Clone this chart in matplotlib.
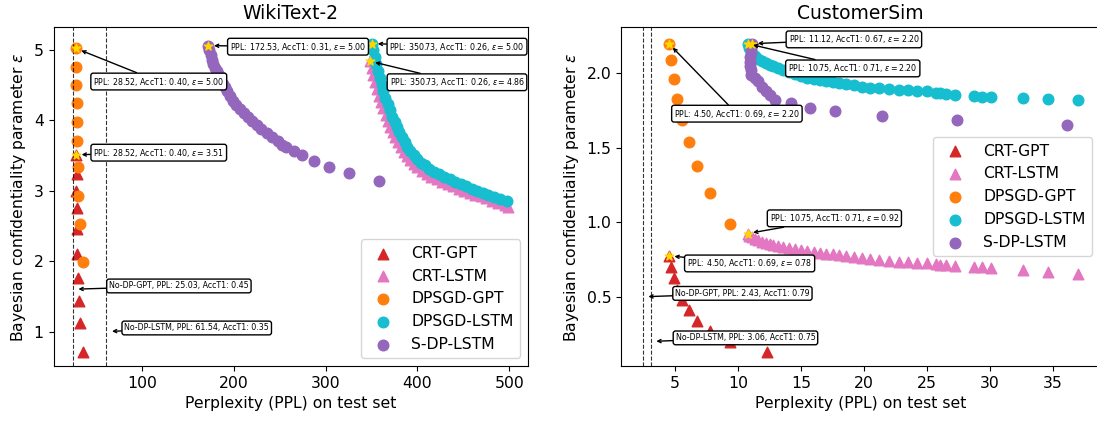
import numpy as np
import matplotlib
matplotlib.use('Agg')
from matplotlib import pyplot as plt

plt.rcParams['font.size'] = 11.25

series_names = ['CRT-GPT', 'CRT-LSTM', 'DPSGD-GPT', 'DPSGD-LSTM', 'S-DP-LSTM']

# ---- WikiText-2 ----
wiki_crt_gpt_ppl = [28.52, 29.0, 28.6, 29.4, 29.2, 29.6, 30.6, 31.2, 33.0, 36.3]
wiki_crt_gpt_eps = [3.51, 3.24, 2.99, 2.75, 2.46, 2.10, 1.76, 1.44, 1.12, 0.71]

wiki_dpsgd_gpt_ppl = [28.52, 28.7, 28.8, 29.0, 29.4, 29.7, 30.3, 31.0, 32.5, 36.0]
wiki_dpsgd_gpt_eps = [5.02, 4.76, 4.50, 4.24, 3.97, 3.71, 3.33, 2.93, 2.53, 1.99]

wiki_crt_lstm_ppl = [348, 350, 352, 354, 356, 358, 360.5, 363, 365.5, 368, 370.5,
                     373, 376, 379, 382, 385, 388.5, 392, 396, 400, 405, 410, 415,
                     421, 427, 433, 439, 445, 451, 457, 463, 469, 475, 481, 488,
                     495, 499]
wiki_crt_lstm_eps = [4.84, 4.74, 4.64, 4.54, 4.44, 4.35, 4.26, 4.17, 4.08, 3.99,
                     3.91, 3.83, 3.76, 3.69, 3.62, 3.55, 3.49, 3.43, 3.38, 3.33,
                     3.28, 3.24, 3.20, 3.16, 3.12, 3.09, 3.06, 3.03, 3.00, 2.97,
                     2.94, 2.92, 2.89, 2.86, 2.83, 2.80, 2.77]

wiki_dpsgd_lstm_ppl = [350.73, 352, 353.5, 355, 357, 359, 361, 363, 365, 367.5,
                       370, 372.5, 375, 377.5, 380, 383, 386, 389, 392, 396, 400,
                       404, 408, 413, 418, 423, 429, 435, 441, 447, 453, 459, 465,
                       471, 477, 483, 490, 497]
wiki_dpsgd_lstm_eps = [5.09, 5.00, 4.90, 4.80, 4.70, 4.60, 4.50, 4.41, 4.32, 4.23,
                       4.14, 4.05, 3.97, 3.90, 3.83, 3.76, 3.69, 3.62, 3.56, 3.50,
                       3.45, 3.40, 3.36, 3.31, 3.27, 3.23, 3.19, 3.16, 3.12, 3.09,
                       3.06, 3.03, 3.00, 2.97, 2.94, 2.91, 2.88, 2.85]

wiki_sdp_lstm_ppl = [172.53, 173.5, 175, 176.5, 178, 180, 181.5, 183.5, 185.5, 188,
                     190.5, 193, 196, 199.6, 203, 207, 211, 215.5, 220, 225, 230,
                     236, 242, 248, 252.5, 257, 266, 274, 287, 304, 325, 358]
wiki_sdp_lstm_eps = [5.06, 5.00, 4.93, 4.86, 4.80, 4.74, 4.70, 4.64, 4.58, 4.52,
                     4.47, 4.41, 4.35, 4.28, 4.22, 4.16, 4.10, 4.04, 3.99, 3.93,
                     3.88, 3.82, 3.76, 3.70, 3.65, 3.62, 3.56, 3.50, 3.42, 3.34,
                     3.25, 3.14]

wiki_nodp_gpt = (25.03, 0.45)
wiki_nodp_lstm = (61.54, 0.35)

# ---- CustomerSim ----
cs_gpt_ppl = [4.50, 4.68, 4.90, 5.16, 5.56, 6.07, 6.76, 7.75, 9.39, 12.27]
cs_crt_gpt_eps = [0.775, 0.70, 0.625, 0.547, 0.477, 0.41, 0.34, 0.272, 0.198, 0.13]
cs_dpsgd_gpt_eps = [2.20, 2.089, 1.96, 1.827, 1.69, 1.54, 1.38, 1.198, 0.988]

cs_lstm_ppl = [10.75, 10.9, 11.1, 11.35, 11.6, 11.9, 12.2, 12.5, 12.8, 13.2, 13.6,
               14.0, 14.5, 15.0, 15.5, 16.0, 16.5, 17.0, 17.5, 18.0, 18.6, 19.2,
               19.8, 20.5, 21.2, 22.0, 22.8, 23.5, 24.2, 25.0, 25.7, 26.0, 26.5,
               27.2, 28.7, 29.4, 30.1, 32.6, 34.6, 37.0]
cs_crt_lstm_eps = [0.925, 0.91, 0.90, 0.89, 0.88, 0.87, 0.862, 0.855, 0.848, 0.84,
                   0.832, 0.825, 0.818, 0.812, 0.806, 0.80, 0.795, 0.79, 0.785,
                   0.78, 0.774, 0.768, 0.762, 0.756, 0.75, 0.742, 0.736, 0.732,
                   0.728, 0.724, 0.719, 0.716, 0.712, 0.708, 0.70, 0.699, 0.694,
                   0.679, 0.668, 0.652]
cs_dpsgd_lstm_eps = [2.20, 2.17, 2.14, 2.12, 2.10, 2.085, 2.07, 2.06, 2.05, 2.035,
                     2.02, 2.01, 1.995, 1.98, 1.97, 1.962, 1.955, 1.948, 1.94,
                     1.933, 1.926, 1.92, 1.912, 1.905, 1.90, 1.895, 1.89, 1.887,
                     1.883, 1.879, 1.872, 1.866, 1.862, 1.855, 1.85, 1.845, 1.84,
                     1.835, 1.829, 1.823]

cs_sdp_lstm_ppl = [11.12, 11.05, 11.0, 10.98, 10.97, 10.97, 11.0, 11.05, 11.3, 11.6,
                   11.9, 12.2, 12.5, 12.9, 14.2, 15.7, 17.7, 21.4, 27.4, 36.1]
cs_sdp_lstm_eps = [2.20, 2.17, 2.14, 2.11, 2.08, 2.05, 2.02, 1.99, 1.97, 1.95,
                   1.91, 1.88, 1.855, 1.825, 1.80, 1.77, 1.747, 1.715, 1.686, 1.657]

cs_nodp_gpt = (2.43, 0.79)
cs_nodp_lstm = (3.06, 0.75)

colors = {'CRT-GPT': '#d62728', 'CRT-LSTM': '#e377c2', 'DPSGD-GPT': '#ff7f0e',
          'DPSGD-LSTM': '#17becf', 'S-DP-LSTM': '#9467bd'}
markers = {'CRT-GPT': '^', 'CRT-LSTM': '^', 'DPSGD-GPT': 'o',
           'DPSGD-LSTM': 'o', 'S-DP-LSTM': 'o'}

box = dict(boxstyle='round,pad=0.3', fc='white', ec='black', lw=1)
arrow = dict(arrowstyle='->', color='black', lw=1, shrinkA=0, shrinkB=4)


def note(ax, text, xy, xytext):
    ax.annotate(text, xy=xy, xytext=xytext, fontsize=5.7, ha='center',
                va='center', bbox=box, arrowprops=arrow, zorder=10)


def best_label(ppl, acc, eps):
    return 'PPL: %.2f, AccT1: %.2f, $\\varepsilon = %.2f$' % (ppl, acc, eps)


def draw_panel(ax, data, nodp, title):
    for name in series_names:
        x, y = data[name]
        ax.scatter(x, y, s=58, c=colors[name], marker=markers[name], label=name)
    for name in series_names:
        x, y = data[name]
        ax.scatter(x[0], y[0], s=40, c='gold', marker='*', zorder=5)
    for ppl, acc in nodp:
        ax.axvline(ppl, color='k', ls='--', lw=0.8, alpha=0.8)
    ax.set_title(title, fontsize=13.5)
    ax.set_xlabel('Perplexity (PPL) on test set')
    ax.set_ylabel('Bayesian confidentiality parameter $\\varepsilon$')


fig = plt.figure(figsize=(10.97, 4.21), dpi=100)
ax1 = fig.add_axes([0.0488, 0.1306, 0.4323, 0.8045])
ax2 = fig.add_axes([0.5661, 0.1306, 0.4363, 0.8045])

wiki = {'CRT-GPT': (wiki_crt_gpt_ppl, wiki_crt_gpt_eps),
        'CRT-LSTM': (wiki_crt_lstm_ppl, wiki_crt_lstm_eps),
        'DPSGD-GPT': (wiki_dpsgd_gpt_ppl, wiki_dpsgd_gpt_eps),
        'DPSGD-LSTM': (wiki_dpsgd_lstm_ppl, wiki_dpsgd_lstm_eps),
        'S-DP-LSTM': (wiki_sdp_lstm_ppl, wiki_sdp_lstm_eps)}
draw_panel(ax1, wiki, [wiki_nodp_gpt, wiki_nodp_lstm], 'WikiText-2')
ax1.set_xlim(4, 520)
ax1.set_ylim(0.51, 5.32)
ax1.set_yticks([1, 2, 3, 4, 5])
ax1.legend(loc='lower right')
note(ax1, best_label(28.52, 0.40, 5.00), (28.52, 5.02), (118.5, 4.55))
note(ax1, best_label(28.52, 0.40, 3.51), (28.52, 3.51), (118.5, 3.54))
note(ax1, best_label(172.53, 0.31, 5.00), (172.53, 5.06), (270, 5.045))
note(ax1, best_label(350.73, 0.26, 5.00), (350.73, 5.09), (443, 5.045))
note(ax1, best_label(350.73, 0.26, 4.86), (348, 4.84), (443, 4.54))
note(ax1, 'No-DP-GPT, PPL: %.2f, AccT1: %.2f' % wiki_nodp_gpt,
     (wiki_nodp_gpt[0], 1.6), (140.4, 1.647))
note(ax1, 'No-DP-LSTM, PPL: %.2f, AccT1: %.2f' % wiki_nodp_lstm,
     (wiki_nodp_lstm[0], 1.0), (159.8, 1.05))

cs = {'CRT-GPT': (cs_gpt_ppl, cs_crt_gpt_eps),
      'CRT-LSTM': (cs_lstm_ppl, cs_crt_lstm_eps),
      'DPSGD-GPT': (cs_gpt_ppl[:len(cs_dpsgd_gpt_eps)], cs_dpsgd_gpt_eps),
      'DPSGD-LSTM': (cs_lstm_ppl, cs_dpsgd_lstm_eps),
      'S-DP-LSTM': (cs_sdp_lstm_ppl, cs_sdp_lstm_eps)}
draw_panel(ax2, cs, [cs_nodp_gpt, cs_nodp_lstm], 'CustomerSim')
ax2.set_xlim(0.7, 38.7)
ax2.set_ylim(0.035, 2.31)
ax2.set_yticks([0.5, 1.0, 1.5, 2.0])
ax2.legend(loc='center right')
note(ax2, best_label(4.50, 0.69, 2.20), (4.50, 2.20), (9.9, 1.73))
note(ax2, best_label(11.12, 0.67, 2.20), (11.12, 2.20), (19.19, 2.229))
note(ax2, best_label(10.75, 0.71, 2.20), (10.75, 2.20), (19.1, 2.034))
note(ax2, best_label(10.75, 0.71, 0.92), (10.75, 0.925), (17.64, 1.027))
note(ax2, best_label(4.50, 0.69, 0.78), (4.50, 0.775), (10.91, 0.724))
note(ax2, 'No-DP-GPT, PPL: %.2f, AccT1: %.2f' % cs_nodp_gpt,
     (cs_nodp_gpt[0], 0.5), (10.34, 0.523))
note(ax2, 'No-DP-LSTM, PPL: %.2f, AccT1: %.2f' % cs_nodp_lstm,
     (cs_nodp_lstm[0], 0.2), (10.58, 0.224))

fig.savefig('out.png', dpi=100)
